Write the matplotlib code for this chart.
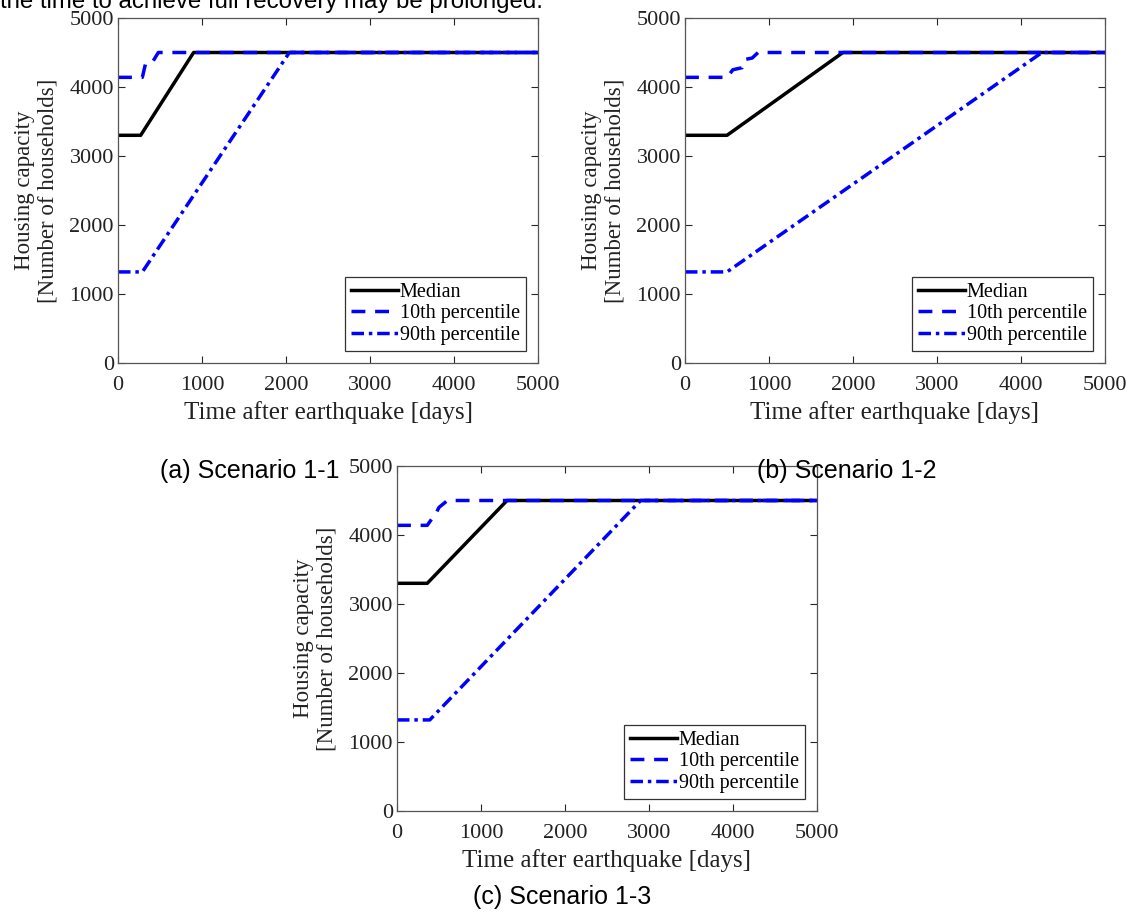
import numpy as np
import matplotlib
matplotlib.use('Agg')
from matplotlib import pyplot as plt

# (days, households) breakpoints
# scenario 1-1
a_med_t = [0, 270, 900, 5000]
a_med_v = [3300, 3300, 4500, 4500]
a_p10_t = [0, 290, 330, 420, 480, 5000]
a_p10_v = [4140, 4140, 4350, 4380, 4500, 4500]
a_p90_t = [0, 290, 2040, 5000]
a_p90_v = [1320, 1320, 4500, 4500]

# scenario 1-2
b_med_t = [0, 500, 1880, 5000]
b_med_v = [3300, 3300, 4500, 4500]
b_p10_t = [0, 500, 570, 680, 720, 800, 870, 5000]
b_p10_v = [4140, 4140, 4250, 4280, 4400, 4420, 4500, 4500]
b_p90_t = [0, 500, 4250, 5000]
b_p90_v = [1320, 1320, 4500, 4500]

# scenario 1-3
c_med_t = [0, 360, 1310, 5000]
c_med_v = [3300, 3300, 4500, 4500]
c_p10_t = [0, 360, 470, 500, 600, 5000]
c_p10_v = [4140, 4140, 4330, 4400, 4500, 4500]
c_p90_t = [0, 390, 2900, 5000]
c_p90_v = [1320, 1320, 4500, 4500]

captions = ['(a) Scenario 1-1', '(b) Scenario 1-2', '(c) Scenario 1-3']
legend_labels = ['Median', '10th percentile', '90th percentile']
ticks = [0, 1000, 2000, 3000, 4000, 5000]

serif = ['Liberation Serif', 'DejaVu Serif']
sans = ['Liberation Sans', 'DejaVu Sans']
gray = '#262626'

W, H = 1129, 913
fig = plt.figure(figsize=(W / 100, H / 100), dpi=100)

# axes boxes in figure fractions (left, bottom, width, height)
boxes = [[118 / W, 1 - 363 / H, 420 / W, 345 / H],
         [685 / W, 1 - 363 / H, 420 / W, 345 / H],
         [397 / W, 1 - 811 / H, 420 / W, 345 / H]]
# caption centres in pixels
cap_pos = [(250, 471), (847, 471), (562, 897)]

series = [(a_med_t, a_med_v, a_p10_t, a_p10_v, a_p90_t, a_p90_v),
          (b_med_t, b_med_v, b_p10_t, b_p10_v, b_p90_t, b_p90_v),
          (c_med_t, c_med_v, c_p10_t, c_p10_v, c_p90_t, c_p90_v)]

for box, s, cap, cp in zip(boxes, series, captions, cap_pos):
    ax = fig.add_axes(box)
    mt, mv, p10t, p10v, p90t, p90v = s
    ax.plot(mt, mv, color='black', lw=2.5, label=legend_labels[0])
    ax.plot(p10t, p10v, color='blue', lw=2.5, ls=(0, (4, 2.8)), label=legend_labels[1])
    ax.plot(p90t, p90v, color='blue', lw=2.5, ls=(0, (3.6, 1.4, 1, 1.4)), label=legend_labels[2])
    ax.set_xlim(0, 5000)
    ax.set_ylim(0, 5000)
    ax.set_xticks(ticks)
    ax.set_yticks(ticks)
    ax.tick_params(direction='in', top=True, right=True, length=5, width=0.8,
                   colors=gray, labelcolor='#222222', labelsize=16)
    ax.tick_params(axis='x', pad=9)
    ax.tick_params(axis='y', pad=3)
    for lab in ax.get_xticklabels() + ax.get_yticklabels():
        lab.set_family(serif)
    for sp in ax.spines.values():
        sp.set_color('#555555')
        sp.set_linewidth(0.9)
    ax.set_xlabel('Time after earthquake [days]', family=serif, fontsize=18,
                  color='#222222', labelpad=5)
    ax.set_ylabel('Housing capacity\n[Number of households]', family=serif,
                  fontsize=16.5, color='#222222', labelpad=8, linespacing=1.15)
    leg = ax.legend(loc='lower right', prop={'family': serif, 'size': 14.5},
                    fancybox=False, edgecolor='#333333', framealpha=1,
                    handlelength=2.3, handletextpad=0.1, borderpad=0.3,
                    labelspacing=0.12, borderaxespad=0.6)
    leg.get_frame().set_linewidth(0.9)
    # caption below each panel
    fig.text(cp[0] / W, 1 - cp[1] / H, cap, family=sans, fontsize=18,
             ha='center', va='center')

# cut-off sentence at the top of the page
fig.text(0.0, 0.991, 'the time to achieve full recovery may be prolonged.',
         family=sans, fontsize=17.3, ha='left', va='baseline')

fig.savefig('out.png', dpi=100)
